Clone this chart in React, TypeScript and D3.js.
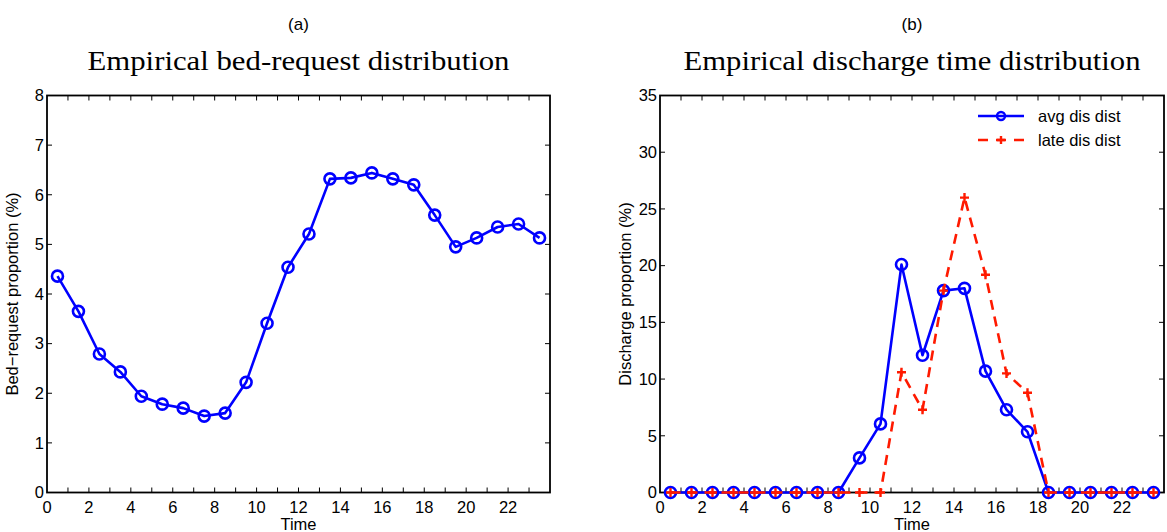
import React, { useEffect, useRef } from 'react';
import * as d3 from 'd3';

// hour-of-day midpoints
const hours = d3.range(24).map(h => h + 0.5);

// panel (a): bed-request proportion (%)
const bedRequest = [4.36, 3.65, 2.79, 2.43, 1.94, 1.78, 1.70, 1.54, 1.60, 2.22, 3.41, 4.54,
  5.21, 6.32, 6.34, 6.44, 6.32, 6.20, 5.59, 4.95, 5.13, 5.35, 5.41, 5.13];

// panel (b): discharge proportion (%)
const avgDischarge = [0, 0, 0, 0, 0, 0, 0, 0, 0, 3.05, 6.05, 20.1,
  12.1, 17.8, 18.0, 10.7, 7.3, 5.35, 0, 0, 0, 0, 0, 0];
const lateDischarge = [0, 0, 0, 0, 0, 0, 0, 0, 0, 0, 0, 10.6,
  7.3, 17.8, 26.0, 19.2, 10.5, 8.8, 0, 0, 0, 0, 0, 0];

const xTickLabels = [0, 2, 4, 6, 8, 10, 12, 14, 16, 18, 20, 22];
const bedTicks = [0, 1, 2, 3, 4, 5, 6, 7, 8];
const disTicks = [0, 5, 10, 15, 20, 25, 30, 35];

const BLUE = '#0000ff';
const RED = '#ff1a00';
const SANS = 'Liberation Sans, Arial, sans-serif';
const SERIF = 'Liberation Serif, DejaVu Serif, serif';
const FS = 16.5;

const App = () => {
  const ref = useRef<SVGSVGElement | null>(null);

  useEffect(() => {
    const svg = d3.select(ref.current);
    svg.selectAll('*').remove();

    const drawPanel = (opts: any) => {
      const { left, right, top, bottom, yMax, yTicks, tag, title, titleW, ylabel } = opts;
      const x = d3.scaleLinear().domain([0, 24]).range([left, right]);
      const y = d3.scaleLinear().domain([0, yMax]).range([bottom, top]);
      const g = svg.append('g');
      const cx = (left + right) / 2;

      // inward ticks, all four sides
      const tk = 5;
      d3.range(1, 24).forEach(t => {
        g.append('line').attr('x1', x(t)).attr('x2', x(t)).attr('y1', bottom).attr('y2', bottom - tk)
          .attr('stroke', '#000').attr('stroke-width', 1);
        g.append('line').attr('x1', x(t)).attr('x2', x(t)).attr('y1', top).attr('y2', top + tk)
          .attr('stroke', '#000').attr('stroke-width', 1);
      });
      yTicks.forEach((t: number) => {
        g.append('line').attr('x1', left).attr('x2', left + tk).attr('y1', y(t)).attr('y2', y(t))
          .attr('stroke', '#000').attr('stroke-width', 1);
        g.append('line').attr('x1', right).attr('x2', right - tk).attr('y1', y(t)).attr('y2', y(t))
          .attr('stroke', '#000').attr('stroke-width', 1);
        g.append('text').attr('x', left - 3).attr('y', y(t)).attr('dy', '0.35em')
          .attr('text-anchor', 'end').attr('font-family', SANS).attr('font-size', FS).text(t);
      });
      xTickLabels.forEach(t => {
        g.append('text').attr('x', x(t)).attr('y', bottom + 20)
          .attr('text-anchor', 'middle').attr('font-family', SANS).attr('font-size', FS).text(t);
      });

      g.append('rect').attr('x', left).attr('y', top).attr('width', right - left).attr('height', bottom - top)
        .attr('fill', 'none').attr('stroke', '#000').attr('stroke-width', 1.8);

      g.append('text').attr('x', cx).attr('y', 30).attr('text-anchor', 'middle')
        .attr('font-family', SANS).attr('font-size', 17).text(tag);
      g.append('text').attr('x', cx).attr('y', 70).attr('text-anchor', 'middle')
        .attr('font-family', SERIF).attr('font-size', 28)
        .attr('textLength', titleW).attr('lengthAdjust', 'spacingAndGlyphs').text(title);
      g.append('text').attr('x', cx).attr('y', 530).attr('text-anchor', 'middle')
        .attr('font-family', SANS).attr('font-size', FS).text('Time');
      g.append('text').attr('transform', `translate(${left - 29},${(top + bottom) / 2}) rotate(-90)`)
        .attr('text-anchor', 'middle').attr('font-family', SANS).attr('font-size', FS).text(ylabel);

      return { g, x, y };
    };

    const drawCircles = (g: any, x: any, y: any, vals: number[]) => {
      const line = d3.line<number>().x((_, i) => x(hours[i])).y(d => y(d));
      g.append('path').attr('d', line(vals)).attr('fill', 'none').attr('stroke', BLUE)
        .attr('stroke-width', 2.6).attr('stroke-linejoin', 'round');
      g.selectAll(null).data(vals).join('circle')
        .attr('cx', (_: number, i: number) => x(hours[i])).attr('cy', (d: number) => y(d)).attr('r', 5.5)
        .attr('fill', 'none').attr('stroke', BLUE).attr('stroke-width', 2.6);
    };

    const drawPluses = (g: any, x: any, y: any, vals: number[]) => {
      const line = d3.line<number>().x((_, i) => x(hours[i])).y(d => y(d));
      g.append('path').attr('d', line(vals)).attr('fill', 'none').attr('stroke', RED)
        .attr('stroke-width', 2.6).attr('stroke-dasharray', '10,7');
      const s = 4.5;
      vals.forEach((v, i) => {
        const px = x(hours[i]);
        const py = y(v);
        g.append('path').attr('d', `M${px - s},${py}H${px + s}M${px},${py - s}V${py + s}`)
          .attr('stroke', RED).attr('stroke-width', 2.4);
      });
    };

    // panel (a)
    const a = drawPanel({
      left: 47, right: 550, top: 95.5, bottom: 492.5, yMax: 8, yTicks: bedTicks,
      tag: '(a)', title: 'Empirical bed-request distribution', titleW: 422,
      ylabel: 'Bed\u2212request proportion (%)'
    });
    drawCircles(a.g, a.x, a.y, bedRequest);

    // panel (b)
    const b = drawPanel({
      left: 660, right: 1164, top: 95.5, bottom: 492.5, yMax: 35, yTicks: disTicks,
      tag: '(b)', title: 'Empirical discharge time distribution', titleW: 457,
      ylabel: 'Discharge proportion (%)'
    });
    drawCircles(b.g, b.x, b.y, avgDischarge);
    drawPluses(b.g, b.x, b.y, lateDischarge);

    // legend
    const lg = b.g.append('g');
    lg.append('line').attr('x1', 978).attr('x2', 1024).attr('y1', 116).attr('y2', 116)
      .attr('stroke', BLUE).attr('stroke-width', 2.6);
    lg.append('circle').attr('cx', 1001).attr('cy', 116).attr('r', 4).attr('fill', 'none')
      .attr('stroke', BLUE).attr('stroke-width', 2.4);
    lg.append('line').attr('x1', 978).attr('x2', 1024).attr('y1', 140).attr('y2', 140)
      .attr('stroke', RED).attr('stroke-width', 2.6).attr('stroke-dasharray', '10,8');
    lg.append('path').attr('d', 'M997,140H1005M1001,136V144').attr('stroke', RED).attr('stroke-width', 2.4);
    lg.append('text').attr('x', 1038).attr('y', 116).attr('dy', '0.35em').attr('font-family', SANS)
      .attr('font-size', FS).text('avg dis dist');
    lg.append('text').attr('x', 1038).attr('y', 140).attr('dy', '0.35em').attr('font-family', SANS)
      .attr('font-size', FS).text('late dis dist');
  }, []);

  return <svg ref={ref} width={1167} height={532} style={{ position: 'absolute', left: 0, top: 0, background: '#fff' }} />;
};

export default App;
